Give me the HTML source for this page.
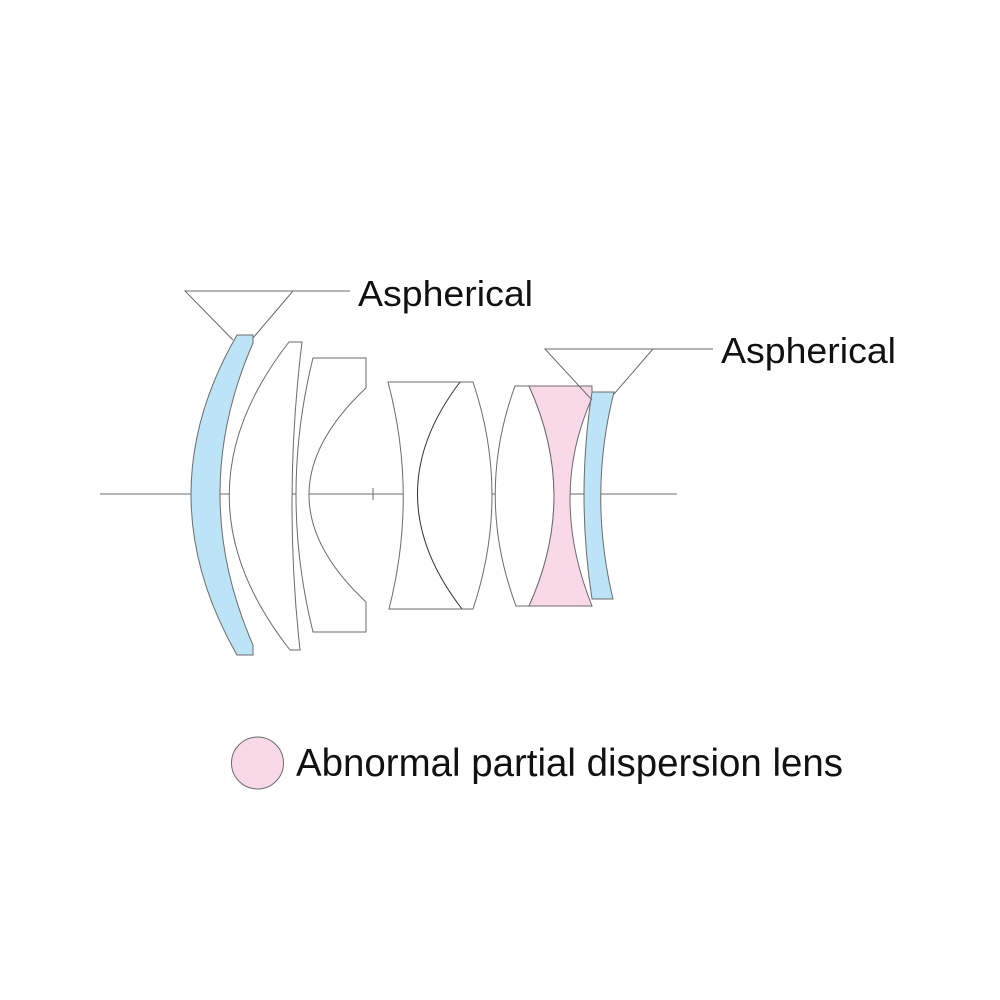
<!DOCTYPE html>
<html><head><meta charset="utf-8"><style>html,body{margin:0;padding:0;background:#fff}svg{display:block}</style></head>
<body>
<svg width="1000" height="1000" viewBox="0 0 1000 1000" xmlns="http://www.w3.org/2000/svg">
<g fill="none" stroke="#6b6b6b" stroke-width="1">
<line x1="100" y1="494" x2="677" y2="494"/>
<line x1="373" y1="488" x2="373" y2="500"/>
<path d="M237,335 L253,335 L253,343 Q187,494 253,645 L253,655 L237,655 Q145,494 237,335 Z" fill="#bde3f7"/>
<path d="M289,342 L302,342 Q283,496 300,650 L290,650 Q169,496 289,342 Z" fill="#fff"/>
<path d="M313,358 L366,358 L366,388 Q252,495 366,602 L366,632 L313,632 Q279,495 313,358 Z" fill="#fff"/>
<path d="M388,382 L473,382 Q511,495 473,609 L389,609 Q418,495 388,382 Z" fill="#fff"/>
<path d="M460,382 Q374,495 462,609" stroke="#333"/>
<path d="M515,386 L529,386 Q579,496 529,606 L516,606 Q475,496 515,386 Z" fill="#fff"/>
<path d="M529,386 L592,386 L592,398 Q548,496 592,606 L529,606 Q579,496 529,386 Z" fill="#f9d9e8"/>
<path d="M592,392 L614,392 Q588,495 613,599 L592,599 Q576,495 592,392 Z" fill="#bde3f7"/>
<path d="M350,291 L185,291 L233,340 M293,291 L253,338"/>
<path d="M713,349 L545,349 L592,400 M653,349 L614,394"/>
<circle cx="257.5" cy="763" r="26" fill="#f9d9e8"/>
</g>
<g font-family="Liberation Sans, sans-serif" fill="#111">
<text x="358" y="306" font-size="36" textLength="175" lengthAdjust="spacingAndGlyphs">Aspherical</text>
<text x="721" y="363" font-size="36" textLength="175" lengthAdjust="spacingAndGlyphs">Aspherical</text>
<text x="296" y="776" font-size="39" textLength="547" lengthAdjust="spacingAndGlyphs">Abnormal partial dispersion lens</text>
</g>
</svg>
</body></html>
